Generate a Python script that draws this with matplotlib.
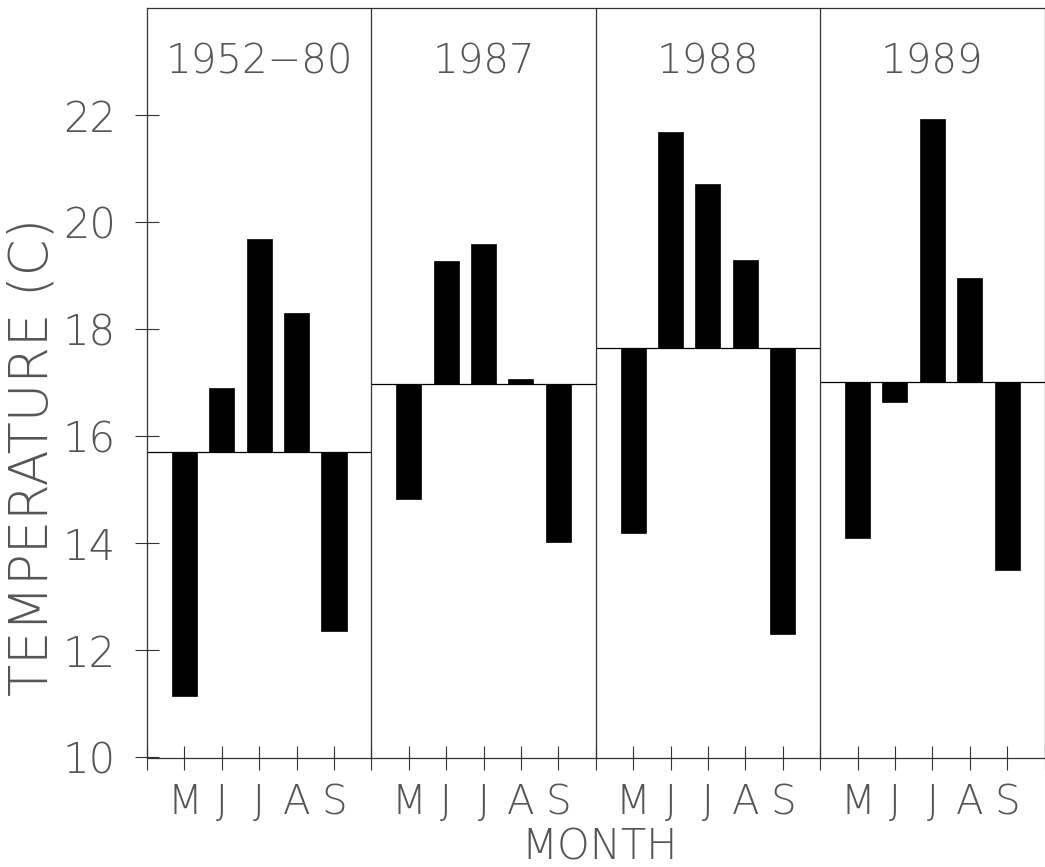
import numpy as np
import matplotlib
matplotlib.use("Agg")
import matplotlib.pyplot as plt

# values (temperature, C)
months = ['M', 'J', 'J', 'A', 'S']
periods = ['1952\u221280', '1987', '1988', '1989']
baselines = [15.70, 16.98, 17.65, 17.02]
temps_1952_80 = [11.15, 16.90, 19.69, 18.31, 12.37]
temps_1987 = [14.82, 19.27, 19.59, 17.07, 14.02]
temps_1988 = [14.19, 21.69, 20.72, 19.29, 12.30]
temps_1989 = [14.10, 16.64, 21.93, 18.95, 13.50]
series = [temps_1952_80, temps_1987, temps_1988, temps_1989]

plt.rcParams['font.family'] = ['DejaVu Sans']
txt = dict(color='#555555', fontweight='light')

fig = plt.figure(figsize=(10.45, 8.67), dpi=100)
ax = fig.add_axes([147/1045, 1 - 757.5/867, (1044.5 - 147)/1045, (757.5 - 8)/867])

n = len(months)
width = n + 1
for i, (vals, base) in enumerate(zip(series, baselines)):
    x0 = i * width
    xs = x0 + np.arange(1, n + 1)
    vals = np.array(vals)
    ax.bar(xs, vals - base, bottom=base, width=0.67, color='black', edgecolor='black', lw=0.5)
    ax.hlines(base, x0, x0 + width, color='black', lw=0.9)
    if i > 0:
        ax.axvline(x0, color='#333333', lw=0.9)
    ax.text(x0 + width / 2, 23.0, periods[i], ha='center', va='center', fontsize=29, **txt)

ax.set_xlim(0, width * len(periods))
ax.set_ylim(10, 24)

ax.set_yticks(np.arange(10, 23, 2))
ax.set_yticklabels([str(v) for v in range(10, 23, 2)], fontsize=30, **txt)

xt = np.arange(0, width * len(periods) + 1)
labels = []
for k in xt:
    r = k % width
    labels.append(months[r - 1] if 1 <= r <= n else '')
ax.set_xticks(xt)
ax.set_xticklabels(labels, fontsize=29, **txt)

ax.tick_params(axis='both', direction='inout', length=17, width=0.8, color='#333333')
ax.tick_params(axis='y', pad=14)
ax.tick_params(axis='x', pad=10)
for s in ax.spines.values():
    s.set_linewidth(0.9)
    s.set_color('#333333')

fig.text(33/1045, 1 - 457/867, 'TEMPERATURE (C)', rotation=90, ha='center', va='center', fontsize=38, **txt)
fig.text(600/1045, 1 - 847/867, 'MONTH', ha='center', va='center', fontsize=30, **txt)

fig.savefig('out.png', dpi=100)
